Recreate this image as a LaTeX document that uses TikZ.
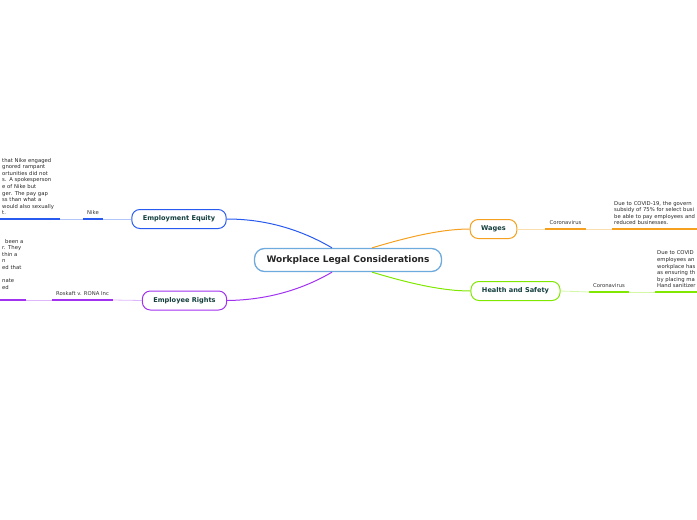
\documentclass[tikz,border=0pt]{standalone}
\usepackage{fontspec}
\setmainfont{DejaVu Sans}
\usepackage{tikz}
\usetikzlibrary{calc,positioning}
\definecolor{rootBlue}{RGB}{110,170,220}
\definecolor{eqBlue}{RGB}{40,90,240}
\definecolor{rightsPurple}{RGB}{160,50,240}
\definecolor{wageOrange}{RGB}{245,160,30}
\definecolor{healthGreen}{RGB}{128,232,0}
\definecolor{titleInk}{RGB}{20,62,62}

\begin{document}
\begin{tikzpicture}[x=1pt,y=-1pt,
    root/.style={draw=rootBlue, line width=1.3pt, rounded corners=10pt, fill=white,
      minimum width=187pt, minimum height=23pt, font=\fontsize{9}{10}\selectfont\bfseries, text=black!85},
    branch/.style={line width=1pt, rounded corners=8pt, fill=white, minimum height=19pt,
      inner xsep=11pt, font=\fontsize{6.6}{8}\selectfont\bfseries, text=titleInk},
    tag/.style={font=\fontsize{5.3}{6.6}\selectfont, text=black!80, inner xsep=4pt,
      inner ysep=2.5pt, text depth=1.5pt},
    note/.style={font=\fontsize{5.3}{6.6}\selectfont, text=black!85, align=left,
      inner xsep=2pt, inner ysep=2pt, text width=#1},
    twig/.style={line width=0.8pt},
    bar/.style={line width=1.5pt}]

    % Canvas
    \useasboundingbox (0,0) rectangle (697,520);
    \clip (0,0) rectangle (697,520);

    % Central topic
    \node[root] (root) at (348,260) {Workplace Legal Considerations};

    % Main branches
    \node[branch, draw=eqBlue] (equity) at (179,219) {Employment Equity};
    \node[branch, draw=rightsPurple] (rights) at (184.5,300.5) {Employee Rights};
    \node[branch, draw=wageOrange] (wages) at (493.5,229) {Wages};
    \node[branch, draw=healthGreen] (health) at (515.5,291) {Health and Safety};

    % Curves from the central topic
    \draw[eqBlue, line width=1pt] ($(root.north)+(-16,0)$)
      .. controls (305,232) and (270,219) .. (equity.east);
    \draw[rightsPurple, line width=1pt] ($(root.south)+(-16,0)$)
      .. controls (305,288) and (270,300) .. (rights.east);
    \draw[wageOrange, line width=1pt] ($(root.north)+(24,0)$)
      .. controls (405,238) and (440,229) .. (wages.west);
    \draw[healthGreen, line width=1pt] ($(root.south)+(24,0)$)
      .. controls (405,282) and (440,291) .. (health.west);

    % Employment Equity: Nike
    \node[tag, anchor=south] (nike) at (93,219) {Nike};
    \node[note=56pt, anchor=south west] (nikenote) at (0,219)
      {that Nike engaged\\ gnored rampant\\ ortunities did not\\ s. A spokesperson\\
       e of Nike but\\ ger. The pay gap\\ ss than what a\\ would also sexually\\ t.\strut};
    \draw[bar, eqBlue] (nike.south west) -- (nike.south east);
    \draw[bar, eqBlue] (nikenote.south west) -- (nikenote.south east);
    \draw[twig, eqBlue!35] (equity.west) -- (nike.south east);
    \draw[twig, eqBlue!35] (nike.south west) -- (nikenote.south east);

    % Employee Rights: Roskaft v. RONA Inc
    \node[tag, anchor=south] (roskaft) at (82.5,300) {Roskaft v. RONA Inc};
    \node[note=22pt, anchor=south west] (roskaftnote) at (0,300)
      {\hspace*{3pt}been a\\ r. They\\ thin a\\ n\\ ed that\\ \mbox{}\\ nate\\ ed\\ \mbox{}\strut};
    \draw[bar, rightsPurple] (roskaft.south west) -- (roskaft.south east);
    \draw[bar, rightsPurple] (roskaftnote.south west) -- (roskaftnote.south east);
    \draw[twig, rightsPurple!35] (rights.west) -- (roskaft.south east);
    \draw[twig, rightsPurple!35] (roskaft.south west) -- (roskaftnote.south east);

    % Wages: Coronavirus
    \node[tag, anchor=south] (wagecovid) at (565.5,229) {Coronavirus};
    \node[note=110pt, anchor=south west] (wagenote) at (612,229)
      {Due to COVID-19, the govern\\ subsidy of 75\% for select busi\\
       be able to pay employees and\\ reduced businesses.\strut};
    \draw[bar, wageOrange] (wagecovid.south west) -- (wagecovid.south east);
    \draw[bar, wageOrange] (wagenote.south west) -- (wagenote.south east);
    \draw[twig, wageOrange!35] (wages.east) -- (wagecovid.south west);
    \draw[twig, wageOrange!35] (wagecovid.south east) -- (wagenote.south west);

    % Health and Safety: Coronavirus
    \node[tag, anchor=south] (healthcovid) at (609,292) {Coronavirus};
    \node[note=80pt, anchor=south west] (healthnote) at (655,292)
      {Due to COVID\\ employees an\\ workplace has\\ as ensuring th\\ by placing ma\\ Hand sanitizer\strut};
    \draw[bar, healthGreen] (healthcovid.south west) -- (healthcovid.south east);
    \draw[bar, healthGreen] (healthnote.south west) -- (healthnote.south east);
    \draw[twig, healthGreen!35] (health.east) -- (healthcovid.south west);
    \draw[twig, healthGreen!35] (healthcovid.south east) -- (healthnote.south west);
\end{tikzpicture}
\end{document}
